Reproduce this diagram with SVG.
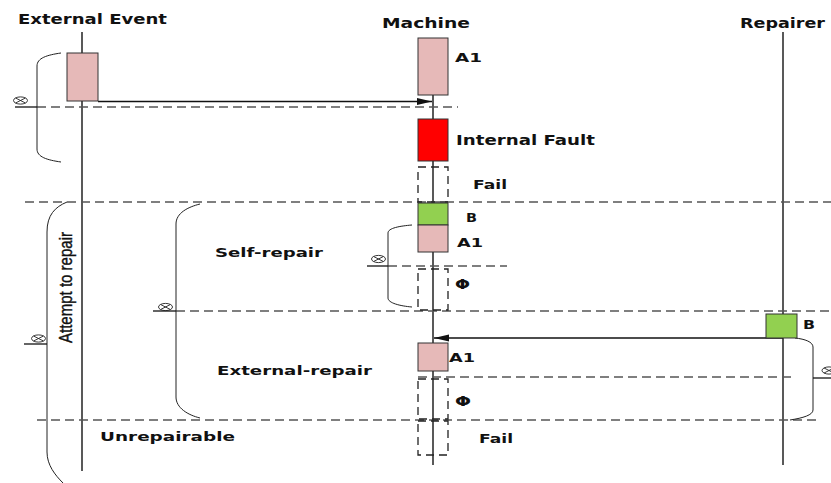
<svg xmlns="http://www.w3.org/2000/svg" width="831" height="483" viewBox="0 0 831 483">
<style>
.lbl{font-family:"DejaVu Sans",Verdana,sans-serif;font-weight:bold;fill:#111;}
.life{stroke:#222;stroke-width:1.5;fill:none;}
.dash{stroke:#555;stroke-width:1.3;stroke-dasharray:9,5;fill:none;}
.dbox{stroke:#222;stroke-width:1.3;stroke-dasharray:8,5;fill:none;}
.brace{stroke:#222;stroke-width:1;fill:none;}
.stub{stroke:#111;stroke-width:1.3;fill:none;}
.box{stroke:#333;stroke-width:1;}
.pink{fill:#e6b9b8;}
.red{fill:#ff0000;}
.green{fill:#92d050;}
.msg{stroke:#111;stroke-width:1.5;fill:none;}
</style>
<defs>
<marker id="arr" markerUnits="userSpaceOnUse" markerWidth="16" markerHeight="8" refX="15" refY="4" orient="auto">
<path d="M0,0.5 L15,4 L0,7.5 Z" fill="#111"/>
</marker>
<g id="otimes" fill="none" stroke="#222" stroke-width="0.9">
<ellipse cx="0" cy="0" rx="7" ry="3.6"/>
<line x1="-4.9" y1="-2.5" x2="4.9" y2="2.5"/>
<line x1="-4.9" y1="2.5" x2="4.9" y2="-2.5"/>
</g>
</defs>
<rect width="831" height="483" fill="#fff"/>

<g id="lifelines">
<line class="life" x1="82" y1="32" x2="82" y2="471"/>
<line class="life" x1="433" y1="95" x2="433" y2="465"/>
<line class="life" x1="783" y1="32" x2="783" y2="465"/>
</g>

<g id="separators">
<line class="dash" x1="37" y1="107" x2="458" y2="107"/>
<line class="dash" x1="25" y1="202" x2="831" y2="202"/>
<line class="dash" x1="388" y1="266" x2="507" y2="266"/>
<line class="dash" x1="176" y1="311" x2="831" y2="311"/>
<line class="dash" x1="418" y1="377" x2="793" y2="377"/>
<line class="dash" x1="37" y1="420" x2="820" y2="420"/>
</g>

<g id="braces">
<path class="brace" d="M61,53 C47,55 37,58 37,66 L37,149 C37,157 47,160 61,162"/>
<path class="brace" d="M67,202 C55,207 47,215 47,232 L47,452 C47,465 55,475 63,483"/>
<path class="brace" d="M200,204 C188,207 176,213 176,224 L176,397 C176,408 188,415 200,418"/>
<path class="brace" d="M412,225 C400,226 388,228 388,233 L388,298 C388,303 400,306 412,307"/>
<path class="brace" d="M795,338 C805,339 813,342 813,347 L813,410 C813,415 803,418 790,420"/>
<line class="stub" x1="15" y1="107" x2="37" y2="107"/>
<line class="stub" x1="367" y1="266" x2="388" y2="266"/>
<line class="stub" x1="153" y1="311" x2="176" y2="311"/>
<line class="stub" x1="24" y1="344" x2="47" y2="344"/>
<line class="stub" x1="813" y1="378" x2="831" y2="378"/>
<use href="#otimes" x="20.5" y="100.5"/>
<use href="#otimes" x="378.5" y="259"/>
<use href="#otimes" x="165.5" y="307"/>
<use href="#otimes" x="38.5" y="338.5"/>
<use href="#otimes" x="829" y="370.5"/>
</g>

<g id="connectors">
<line class="msg" x1="98" y1="101.5" x2="432" y2="101.5" marker-end="url(#arr)"/>
<line class="msg" x1="783" y1="338" x2="434" y2="338" marker-end="url(#arr)"/>
</g>

<g id="title-external">
<text class="lbl" x="18" y="24" font-size="13.5" textLength="149" lengthAdjust="spacingAndGlyphs">External Event</text>
</g>
<g id="title-machine">
<text class="lbl" x="382" y="28" font-size="13.5" textLength="88" lengthAdjust="spacingAndGlyphs">Machine</text>
</g>
<g id="title-repairer">
<text class="lbl" x="740" y="28" font-size="13.5" textLength="85" lengthAdjust="spacingAndGlyphs">Repairer</text>
</g>

<g id="ext-event-box">
<rect class="box pink" x="67" y="53" width="31" height="48"/>
</g>

<g id="machine-a1-top">
<rect class="box pink" x="418" y="38" width="30" height="57"/>
<text class="lbl" x="455" y="62" font-size="12" textLength="27" lengthAdjust="spacingAndGlyphs">A1</text>
</g>

<g id="internal-fault">
<rect class="box red" x="418" y="119" width="30" height="42"/>
<text class="lbl" x="456" y="145" font-size="13.5" textLength="139" lengthAdjust="spacingAndGlyphs">Internal Fault</text>
</g>

<g id="fail-1">
<rect class="dbox" x="418" y="167" width="30" height="35"/>
<text class="lbl" x="473" y="189" font-size="12.5" textLength="34" lengthAdjust="spacingAndGlyphs">Fail</text>
</g>

<g id="machine-b">
<rect class="box green" x="418" y="203" width="30" height="22"/>
<text class="lbl" x="466" y="222" font-size="12" textLength="11" lengthAdjust="spacingAndGlyphs">B</text>
</g>

<g id="machine-a1-self">
<rect class="box pink" x="418" y="225" width="30" height="27"/>
<text class="lbl" x="457" y="247" font-size="12" textLength="26" lengthAdjust="spacingAndGlyphs">A1</text>
</g>

<g id="phi-1">
<rect class="dbox" x="418" y="269" width="30" height="41"/>
<text class="lbl" x="455" y="289" font-size="14" textLength="15" lengthAdjust="spacingAndGlyphs">Φ</text>
</g>

<g id="repairer-b">
<rect class="box green" x="766" y="314" width="31" height="24"/>
<text class="lbl" x="803" y="329" font-size="12" textLength="12" lengthAdjust="spacingAndGlyphs">B</text>
</g>

<g id="machine-a1-ext">
<rect class="box pink" x="418" y="343" width="30" height="28"/>
<text class="lbl" x="449" y="362" font-size="12" textLength="26" lengthAdjust="spacingAndGlyphs">A1</text>
</g>

<g id="phi-2">
<rect class="dbox" x="418" y="379" width="30" height="40"/>
<text class="lbl" x="455" y="406" font-size="14" textLength="16" lengthAdjust="spacingAndGlyphs">Φ</text>
</g>

<g id="fail-2">
<rect class="dbox" x="418" y="421" width="30" height="34"/>
<text class="lbl" x="479" y="443" font-size="12.5" textLength="34" lengthAdjust="spacingAndGlyphs">Fail</text>
</g>

<g id="phase-labels">
<text class="lbl" x="215" y="257" font-size="13" textLength="108" lengthAdjust="spacingAndGlyphs">Self-repair</text>
<text class="lbl" x="217" y="375" font-size="13" textLength="155" lengthAdjust="spacingAndGlyphs">External-repair</text>
<text class="lbl" x="100" y="441" font-size="13" textLength="135" lengthAdjust="spacingAndGlyphs">Unrepairable</text>
<text x="72" y="343" transform="rotate(-90 72 343)" font-family="'Liberation Sans Narrow','Liberation Sans',Arial,sans-serif" font-size="19" fill="#111" stroke="#111" stroke-width="0.4" textLength="111" lengthAdjust="spacingAndGlyphs">Attempt to repair</text>
</g>
</svg>
